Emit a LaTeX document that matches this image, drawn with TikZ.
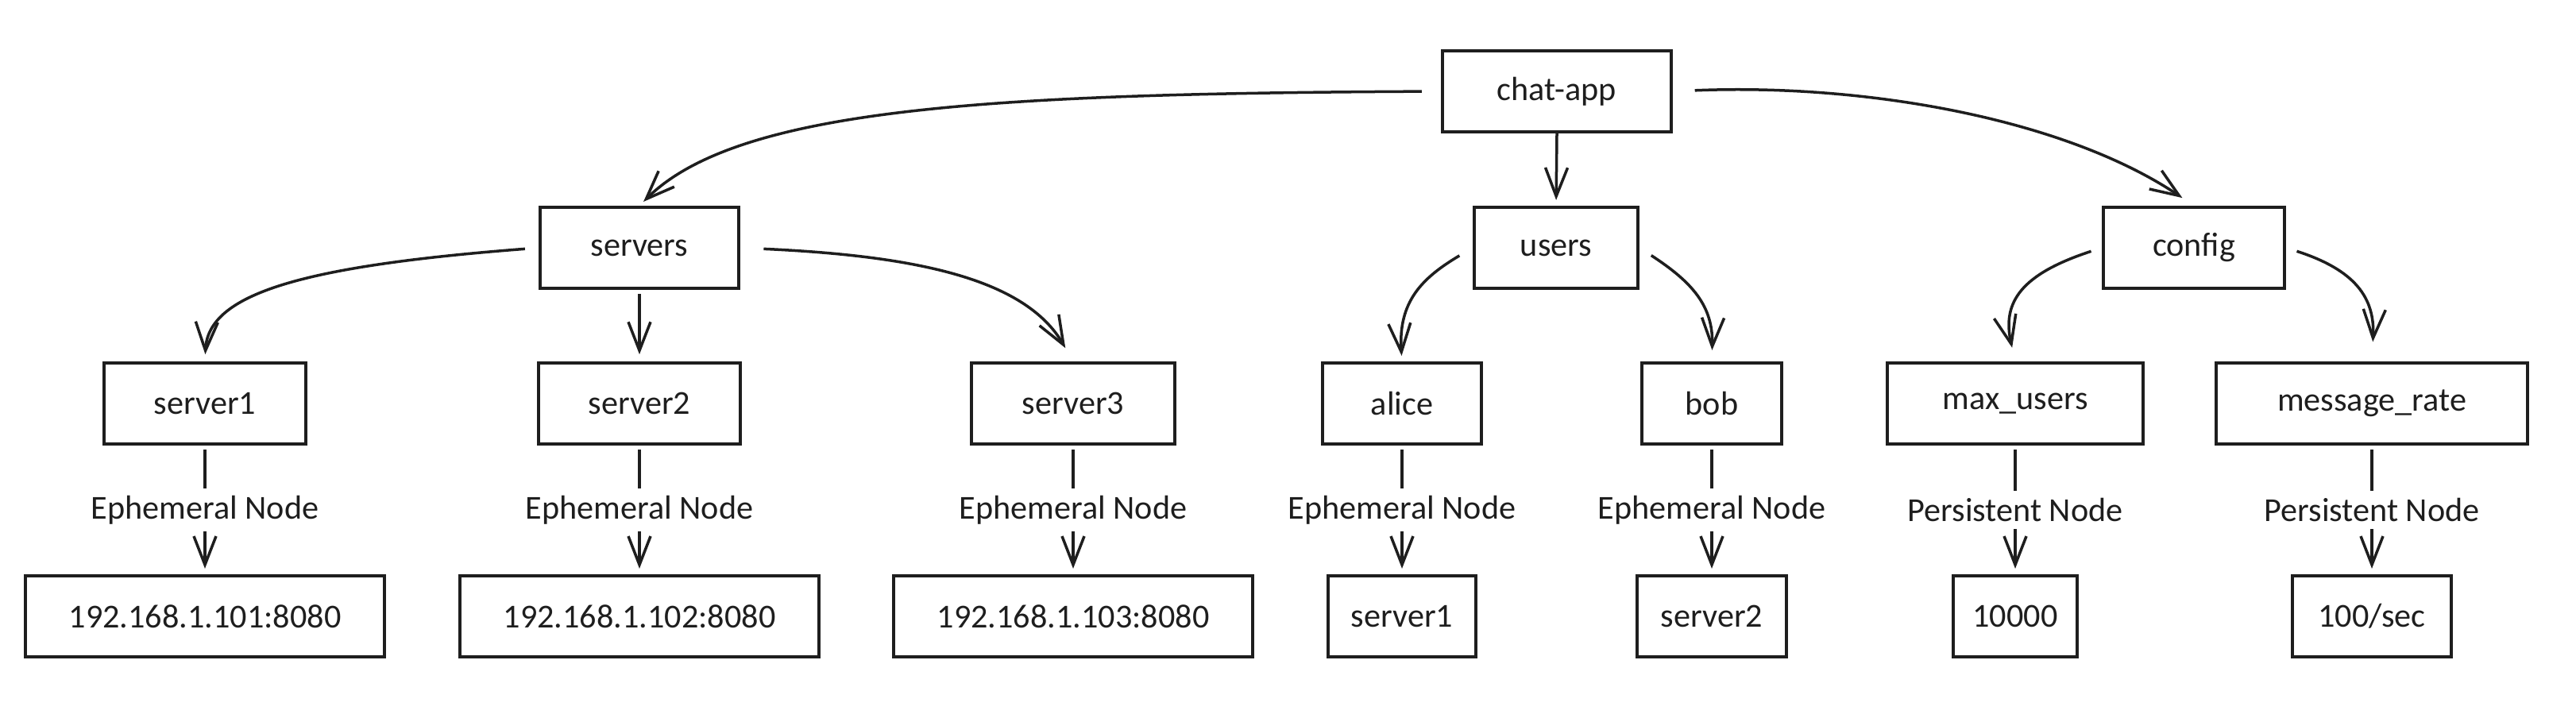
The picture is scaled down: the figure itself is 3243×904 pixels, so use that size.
\documentclass[tikz,border=0pt]{standalone}
\usepackage{fontspec}
\setmainfont{Carlito}
\usetikzlibrary{positioning}
\usetikzlibrary{arrows.meta}
\definecolor{ink}{HTML}{1E1E1E}

\begin{document}
\begin{tikzpicture}[x=0.01cm,y=-0.01cm]
\tikzstyle{box}=[rectangle,align=center,draw=ink,text=ink,line width=0.4mm,minimum height=1.02cm,inner sep=0pt,fill=white,font=\fontsize{12}{14}\selectfont]
\tikzstyle{link}=[draw=ink,line width=0.35mm,-{Straight Barb[length=3.6mm,width=2.8mm]}]
\tikzstyle{tag}=[fill=white,text=ink,inner xsep=2pt,inner ysep=2.5pt,font=\fontsize{12}{14}\selectfont]
\useasboundingbox (0,0) rectangle (3243,904);
\node[box,minimum width=2.87cm] at(1960,115) (chat) {chat-app};
\node[box,minimum width=2.49cm] at(805,312) (srv) {servers};
\node[box,minimum width=2.06cm] at(1959,312) (usr) {users};
\node[box,minimum width=2.28cm] at(2762,312) (cfg) {config};
\node[box,minimum width=2.53cm] at(258,508) (s1) {server1};
\node[box,minimum width=2.54cm] at(805,508) (s2) {server2};
\node[box,minimum width=2.56cm] at(1351,508) (s3) {server3};
\node[box,minimum width=2.00cm] at(1765,508) (al) {alice};
\node[box,minimum width=1.76cm] at(2155,508) (bo) {bob};
\node[box,minimum width=3.21cm] at(2537,508) (mu) {max\_users};
\node[box,minimum width=3.91cm] at(2986,508) (mr) {message\_rate};
\node[box,minimum width=4.52cm] at(258,776) (ip1) {192.168.1.101:8080};
\node[box,minimum width=4.52cm] at(805,776) (ip2) {192.168.1.102:8080};
\node[box,minimum width=4.52cm] at(1351,776) (ip3) {192.168.1.103:8080};
\node[box,minimum width=1.86cm] at(1765,776) (al1) {server1};
\node[box,minimum width=1.88cm] at(2155,776) (bo2) {server2};
\node[box,minimum width=1.55cm] at(2537,776) (mu1) {10000};
\node[box,minimum width=2.00cm] at(2986,776) (mr1) {100/sec};

\draw[link,shorten <=7pt,shorten >=2pt] (chat.west) .. controls (1250,118) and (930,135) .. (srv.north);
\draw[link,shorten <=0pt,shorten >=2pt] (chat.south) -- (usr.north);
\draw[link,shorten <=8pt,shorten >=5pt] (chat.east) .. controls (2350,105) and (2600,150) .. (cfg.north);

\draw[link,shorten <=5pt,shorten >=2.5pt] (srv.west) .. controls (380,335) and (262,370) .. (s1.north);
\draw[link,shorten <=1.5pt,shorten >=2.5pt] (srv.south) -- (s2.north);
\draw[link,shorten <=8.5pt,shorten >=5.5pt] (srv.east) .. controls (1150,322) and (1290,350) .. (s3.north);
\draw[link,shorten <=5.5pt,shorten >=2pt] (usr.west) .. controls (1790,350) and (1760,380) .. (al.north);
\draw[link,shorten <=5pt,shorten >=4pt] (usr.east) .. controls (2130,355) and (2157,385) .. (bo.north);
\draw[link,shorten <=4pt,shorten >=5pt] (cfg.west) .. controls (2545,345) and (2520,380) .. (mu.north);
\draw[link,shorten <=4pt,shorten >=7pt] (cfg.east) .. controls (2965,340) and (2990,375) .. (mr.north);

\draw[link,shorten <=1.5pt,shorten >=2pt] (s1.south) -- node[tag] {Ephemeral Node} (ip1.north);
\draw[link,shorten <=1.5pt,shorten >=2pt] (s2.south) -- node[tag] {Ephemeral Node} (ip2.north);
\draw[link,shorten <=1.5pt,shorten >=2pt] (s3.south) -- node[tag] {Ephemeral Node} (ip3.north);
\draw[link,shorten <=1.5pt,shorten >=2pt] (al.south) -- node[tag] {Ephemeral Node} (al1.north);
\draw[link,shorten <=1.5pt,shorten >=2pt] (bo.south) -- node[tag] {Ephemeral Node} (bo2.north);
\draw[link,shorten <=1.5pt,shorten >=2pt] (mu.south) -- node[tag] {Persistent Node} (mu1.north);
\draw[link,shorten <=1.5pt,shorten >=2pt] (mr.south) -- node[tag] {Persistent Node} (mr1.north);
\end{tikzpicture}
\end{document}
